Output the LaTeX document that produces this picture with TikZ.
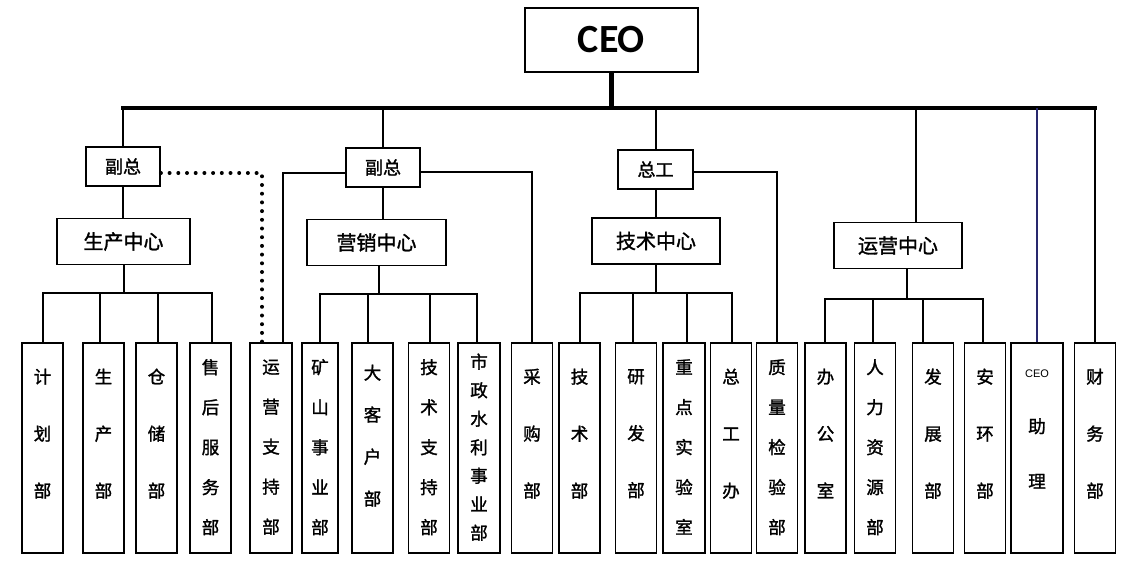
\documentclass[tikz,border=0pt]{standalone}
\usepackage{fontspec}
\setmainfont{Noto Sans CJK SC}[FakeBold=1.5]
\newfontfamily\ceofont{Carlito}
\newfontfamily\smallfont{Liberation Sans}
\usetikzlibrary{positioning}
\definecolor{navy}{RGB}{40,40,110}
\tikzstyle{box}=[draw,line width=1.8pt,inner sep=0pt,fill=white]
\tikzstyle{ceobox}=[box,minimum width=173pt,minimum height=64pt,font=\ceofont\bfseries\fontsize{40}{40}\selectfont]
\tikzstyle{vpbox}=[box,minimum width=74pt,minimum height=39pt,font=\fontsize{18}{18}\selectfont]
\tikzstyle{centerbox}=[box,minimum width=128pt,minimum height=46pt,font=\fontsize{20}{20}\selectfont]
\tikzstyle{dept}=[box,minimum height=210pt,align=center]
\tikzstyle{link}=[draw,line width=2pt]
\tikzstyle{bus}=[draw,line width=3.6pt,line cap=rect]
\tikzstyle{dots}=[draw,line width=4pt,line cap=round,dash pattern=on 0pt off 8.7pt]

\begin{document}
\begin{tikzpicture}[x=1pt,y=-1pt]

    \path[fill=white] (0,0) rectangle (1132,575);

    % top levels
    \node[ceobox] (ceo) at (611.5,40) {CEO};
    \node[vpbox] (fz1) at (123,166.5) {副总};
    \node[vpbox] (fz2) at (383,167.5) {副总};
    \node[vpbox, minimum width=75pt] (zg) at (655.5,169.5) {总工};
    \node[centerbox, minimum width=133pt] (scz) at (123.5,241.5) {生产中心};
    \node[centerbox, minimum width=139pt] (yxz) at (376.5,242.5) {营销中心};
    \node[centerbox] (jsz) at (656,241) {技术中心};
    \node[centerbox] (yyz) at (898,245.5) {运营中心};

    % departments
    \foreach \x/\w/\lsp/\dep/\name/\txt in {
        42.5/41/57/30pt/jihua/{计\\划\\部},
        103.5/41/57/30pt/shengchan/{生\\产\\部},
        156.5/41/57/30pt/cangchu/{仓\\储\\部},
        210.5/41/40/3pt/shouhou/{售\\后\\服\\务\\部},
        271/42/40/3pt/yunzhi/{运\\营\\支\\持\\部},
        320/36/40/3pt/kuangshan/{矿\\山\\事\\业\\部},
        372.5/41/42/26pt/dakehu/{大\\客\\户\\部},
        429/41/40/3pt/jizhi/{技\\术\\支\\持\\部},
        479/42/28.5/3pt/shizheng/{市\\政\\水\\利\\事\\业\\部},
        532/41/57/30pt/caigou/{采\\购\\部},
        579.5/41/57/30pt/jishu/{技\\术\\部},
        636/41/57/30pt/yanfa/{研\\发\\部},
        684/42/40/3pt/zhongdian/{重\\点\\实\\验\\室},
        731/41/57/30pt/zgban/{总\\工\\办},
        777/41/40/3pt/zhiliang/{质\\量\\检\\验\\部},
        825.5/41/57/30pt/bangong/{办\\公\\室},
        875/41/40/3pt/renli/{人\\力\\资\\源\\部},
        933/41/57/30pt/fazhan/{发\\展\\部},
        985/41/57/30pt/anhuan/{安\\环\\部},
        1037/52/55/38pt/zhuli/{{\smallfont\fontsize{11}{11}\selectfont CEO}\\助\\理},
        1095/41/57/30pt/caiwu/{财\\务\\部}}
        \node[dept, minimum width=\w pt, text depth=\dep, font=\fontsize{17.5}{\lsp}\selectfont] (\name) at (\x,448) {\txt};

    % bus and stems
    \coordinate (busl) at (123,108);
    \coordinate (busr) at (1095,108);
    \draw[line width=5.5pt] (ceo.south) -- (ceo.south |- busl);
    \draw[bus] (busl) -- (busr);
    \foreach \n in {fz1, fz2, zg, caiwu}
        \draw[link] (\n.north) -- (\n.north |- busl);
    \draw[link, navy] (zhuli.north) -- (zhuli.north |- busl);
    \draw[link] ([xshift=18pt]yyz.north) -- ([xshift=18pt]yyz.north |- busl);
    \draw[link] (fz1.south) -- (fz1.south |- scz.north);
    \draw[link] (fz2.south) -- (fz2.south |- yxz.north);
    \draw[link] (zg.south) -- (zg.south |- jsz.north);

    % bars
    \coordinate (bar1) at (123.5,293);
    \coordinate (bar2) at (379,294);
    \coordinate (bar3) at (656,293);
    \coordinate (bar4) at (907,299);
    \draw[link] (scz.south) -- (bar1);
    \draw[link] (yxz.south -| bar2) -- (bar2);
    \draw[link] (jsz.south) -- (bar3);
    \draw[link] (yyz.south -| bar4) -- (bar4);
    \foreach \c/\dx in {jihua/0, shengchan/-4, cangchu/1, shouhou/1}
        \draw[link] (bar1) -| ([xshift=\dx pt]\c.north);
    \foreach \c/\dx in {kuangshan/0, dakehu/-5, jizhi/1, shizheng/-2}
        \draw[link] (bar2) -| ([xshift=\dx pt]\c.north);
    \foreach \c/\dx in {jishu/0, yanfa/-3, zhongdian/3, zgban/1}
        \draw[link] (bar3) -| ([xshift=\dx pt]\c.north);
    \foreach \c/\dx in {bangong/-1, renli/-2, fazhan/-10, anhuan/-2}
        \draw[link] (bar4) -| ([xshift=\dx pt]\c.north);

    % side links
    \draw[dots] ([yshift=-6.5pt]fz1.east) -| ([xshift=-9pt]yunzhi.north);
    \draw[link] ([yshift=-5.5pt]fz2.west) -| ([xshift=12pt]yunzhi.north);
    \draw[link] ([yshift=-4.5pt]fz2.east) -| (caigou.north);
    \draw[link] ([yshift=-2.5pt]zg.east) -| (zhiliang.north);

\end{tikzpicture}
\end{document}
